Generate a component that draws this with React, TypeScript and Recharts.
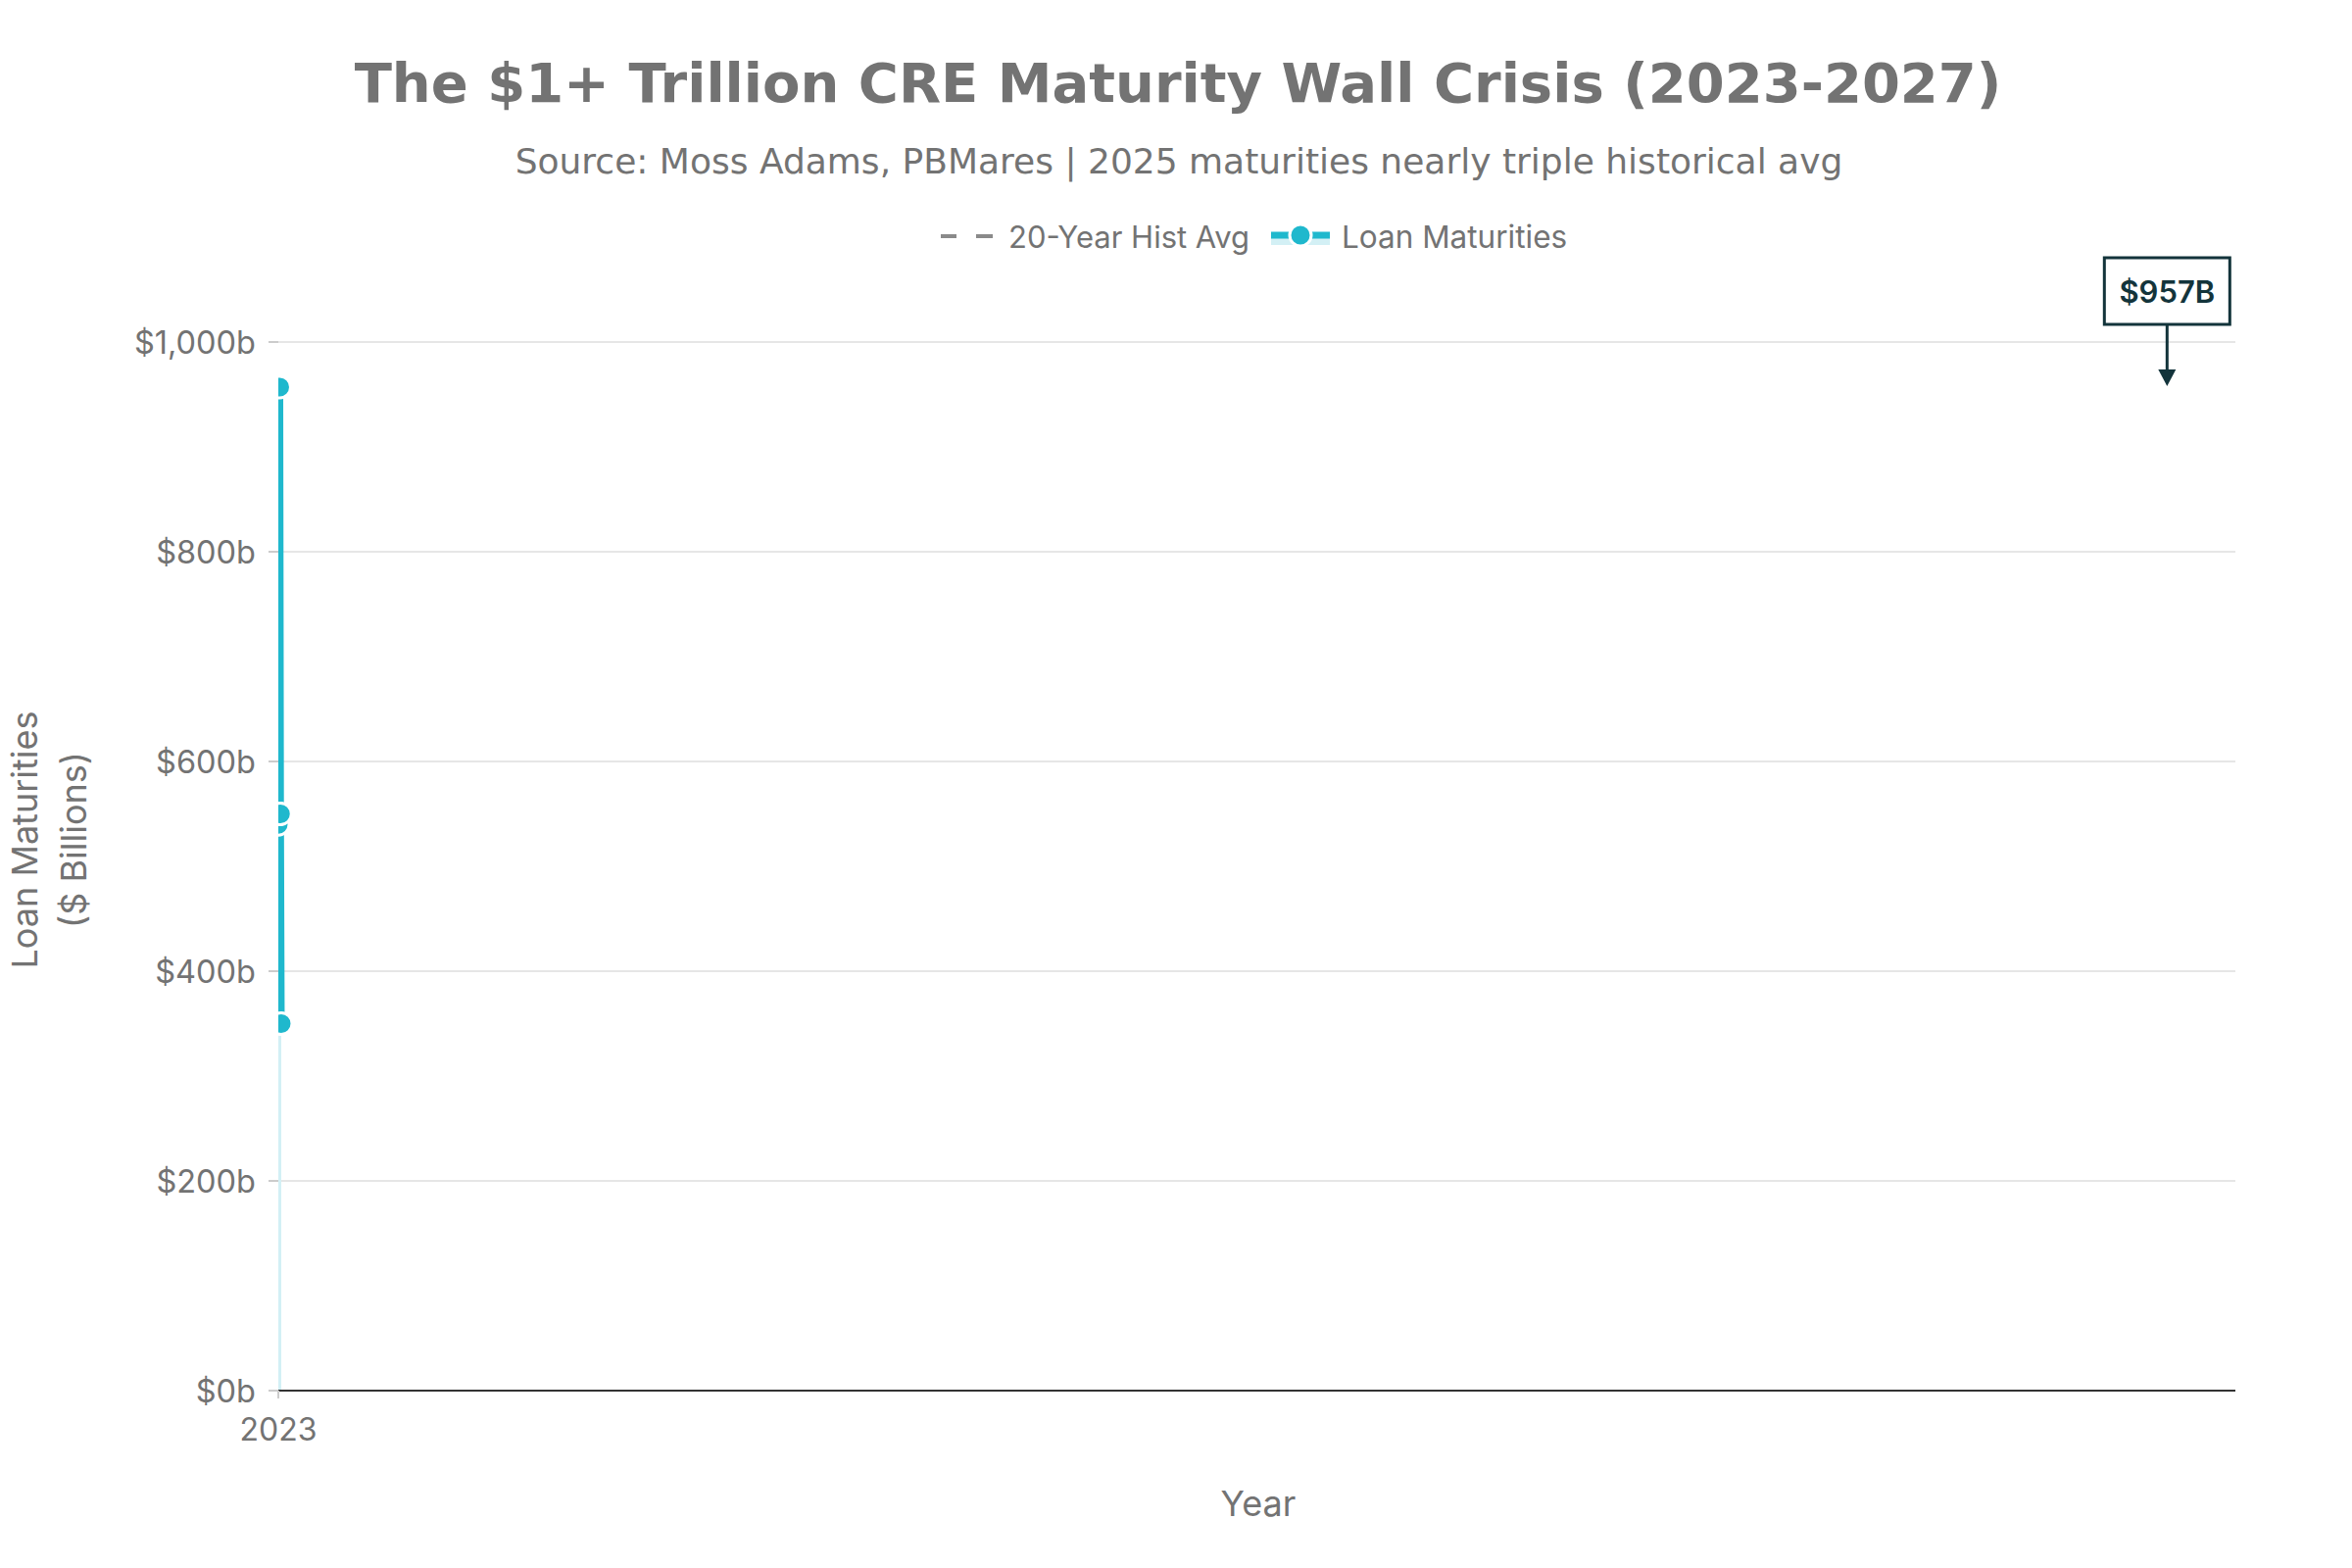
import React from 'react';
import {
  ComposedChart,
  Area,
  Line,
  XAxis,
  YAxis,
  CartesianGrid,
  ReferenceDot,
} from 'recharts';

const years = [2023, 2024, 2025, 2026, 2027];
const loanMaturities = [540, 550, 957, 550, 350];
const histAvg = [350, 350, 350, 350, 350];
const yTicks = [0, 200, 400, 600, 800, 1000];
const xTicks = [2023];
const xDomain = [2023, 4688];
const peakValue = 957;
const peakLabel = '$957B';
const annotationX = 4595;

const data = years.map((year, i) => ({
  year,
  loan: loanMaturities[i],
  hist: histAvg[i],
}));

const CYAN = '#1FB8CD';
const LIGHT = '#D3F0F5';
const GRAY_TEXT = '#737373';
const DARK = '#13343B';
const UI_FONT = 'Inter, "Liberation Sans", Arial, sans-serif';

const PeakAnnotation = (props: any) => {
  const { cx, cy } = props;
  if (cx == null || cy == null) return null;
  return (
    <g>
      <rect x={cx - 64} y={cy - 132} width={128} height={68} fill="#ffffff" stroke={DARK} strokeWidth={3} />
      <text x={cx} y={cy - 98} textAnchor="middle" dominantBaseline="central" fill={DARK} fontSize={31} fontWeight={600} fontFamily={UI_FONT}>
        {peakLabel}
      </text>
      <line x1={cx} y1={cy - 64} x2={cx} y2={cy - 16} stroke={DARK} strokeWidth={3} />
      <path d={`M ${cx - 9} ${cy - 18} L ${cx + 9} ${cy - 18} L ${cx} ${cy - 1} Z`} fill={DARK} />
    </g>
  );
};

const App = () => {
  return (
    <div style={{ position: 'absolute', left: 0, top: 0, width: 2400, height: 1600, background: '#ffffff', fontFamily: UI_FONT }}>
      <ComposedChart
        width={2400}
        height={1600}
        data={data}
        margin={{ top: 349, right: 119, bottom: 131, left: 184 }}
      >
        <CartesianGrid horizontal vertical={false} stroke="#E6E6E6" strokeWidth={2} />
        <XAxis
          type="number"
          dataKey="year"
          domain={xDomain}
          ticks={xTicks}
          allowDataOverflow
          height={50}
          axisLine={{ stroke: '#333333', strokeWidth: 2 }}
          tickLine={{ stroke: '#CCCCCC', strokeWidth: 2 }}
          tickSize={8}
          tickMargin={20}
          tick={{ fill: GRAY_TEXT, fontSize: 32, fontFamily: UI_FONT }}
        />
        <YAxis
          type="number"
          domain={[0, 1000]}
          ticks={yTicks}
          width={100}
          axisLine={false}
          tickLine={{ stroke: '#CCCCCC', strokeWidth: 2 }}
          tickSize={10}
          tickMargin={13}
          tickFormatter={(v: number) => `$${v.toLocaleString('en-US')}b`}
          tick={{ fill: GRAY_TEXT, fontSize: 32.5, fontFamily: UI_FONT }}
        />
        <Area
          type="linear"
          dataKey="loan"
          stroke="none"
          fill={LIGHT}
          fillOpacity={1}
          isAnimationActive={false}
        />
        <Line
          type="linear"
          dataKey="hist"
          stroke="#8A8A8A"
          strokeWidth={4}
          strokeDasharray="12 10"
          dot={false}
          isAnimationActive={false}
        />
        <Line
          type="linear"
          dataKey="loan"
          stroke={CYAN}
          strokeWidth={7}
          dot={{ r: 11, fill: CYAN, stroke: '#ffffff', strokeWidth: 3 }}
          isAnimationActive={false}
        />
        <ReferenceDot x={annotationX} y={peakValue} r={0} ifOverflow="visible" shape={PeakAnnotation} />
      </ComposedChart>

      <svg width={2400} height={1600} style={{ position: 'absolute', left: 0, top: 0, pointerEvents: 'none' }}>
        <text x={1202} y={104} textAnchor="middle" fill={GRAY_TEXT} fontSize={56} fontWeight="bold" fontFamily="'DejaVu Sans', sans-serif">
          The $1+ Trillion CRE Maturity Wall Crisis (2023-2027)
        </text>
        <text x={1203} y={177} textAnchor="middle" fill={GRAY_TEXT} fontSize={36} fontFamily="'DejaVu Sans', sans-serif">
          Source: Moss Adams, PBMares | 2025 maturities nearly triple historical avg
        </text>

        {/* legend */}
        <line x1={960} y1={241} x2={976} y2={241} stroke="#8A8A8A" strokeWidth={4} />
        <line x1={996} y1={241} x2={1013} y2={241} stroke="#8A8A8A" strokeWidth={4} />
        <text x={1029} y={241} dominantBaseline="central" fill={GRAY_TEXT} fontSize={31} fontFamily={UI_FONT}>
          20-Year Hist Avg
        </text>
        <rect x={1297} y={241} width={60} height={9} fill={LIGHT} />
        <line x1={1297} y1={240} x2={1357} y2={240} stroke={CYAN} strokeWidth={7} />
        <circle cx={1327} cy={240} r={11} fill={CYAN} stroke="#ffffff" strokeWidth={3} />
        <text x={1369} y={241} dominantBaseline="central" fill={GRAY_TEXT} fontSize={31.5} fontFamily={UI_FONT}>
          Loan Maturities
        </text>

        {/* axis titles */}
        <g transform="rotate(-90, 50, 857)">
          <text x={50} y={832} textAnchor="middle" dominantBaseline="central" fill={GRAY_TEXT} fontSize={36} fontFamily={UI_FONT}>
            Loan Maturities
          </text>
          <text x={50} y={882} textAnchor="middle" dominantBaseline="central" fill={GRAY_TEXT} fontSize={36} fontFamily={UI_FONT}>
            ($ Billions)
          </text>
        </g>
        <text x={1284} y={1534} textAnchor="middle" dominantBaseline="central" fill={GRAY_TEXT} fontSize={36} fontFamily={UI_FONT}>
          Year
        </text>
      </svg>
    </div>
  );
};

export default App;
